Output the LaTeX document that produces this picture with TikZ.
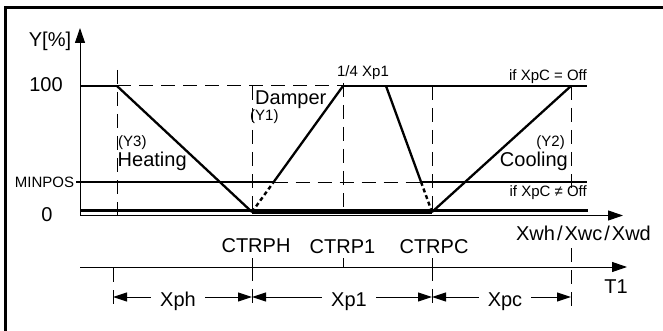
\documentclass[tikz,border=0pt]{standalone}
\usepackage{fontspec}
\setmainfont{Liberation Sans}
\usetikzlibrary{arrows.meta,calc}
\begin{document}
\begin{tikzpicture}[x=1pt,y=-1pt,
  big/.style={font=\fontsize{20}{22}\selectfont, inner sep=0pt},
  small/.style={font=\fontsize{15}{17}\selectfont, inner sep=0pt},
  thinline/.style={line width=1pt},
  heavy/.style={line width=2.7pt},
  curve/.style={line width=2.3pt},
  dsh/.style={line width=1pt, dash pattern=on 14pt off 8pt},
  dotln/.style={line width=2.4pt, dash pattern=on 4pt off 3pt},
  axisarrow/.style={line width=1pt, -{Triangle[length=15pt,width=10pt]}},
  dimarrow/.style={line width=1pt, {Triangle[length=14pt,width=9pt]}-{Triangle[length=14pt,width=9pt]}},
  dimlabel/.style={big, fill=white, inner xsep=9pt, inner ysep=2pt},
]
\useasboundingbox (0,0) rectangle (663,331);
\fill[white] (0,0) rectangle (663,331);
% frame (right and bottom edges are outside the picture)
\draw[line width=2.6pt] (5.5,331) -- (5.5,7.3) -- (663,7.3);

% key points
\coordinate (o) at (80,215.5);
\coordinate (ytip) at (80,28);
\coordinate (xtip) at (623,215.5);
\coordinate (t0) at (80,267);
\coordinate (ttip) at (627,267);
\coordinate (l100) at (80,86);
\coordinate (h0) at (117,86);
\coordinate (ph) at (252,212);
\coordinate (p1) at (343,86);
\coordinate (q) at (386,86);
\coordinate (pc) at (432,212);
\coordinate (c1) at (571,86);
\coordinate (r100) at (587,86);
\coordinate (dm1) at ($(ph)!0.238!(p1)$);
\coordinate (dm2) at ($(pc)!0.238!(q)$);
\coordinate (mp0) at (76,182);
\coordinate (mpa) at (dm1 |- mp0);
\coordinate (mpb) at (dm2 |- mp0);
\coordinate (mp1) at (587,182);
\coordinate (z0) at (80,210.7);
\coordinate (z1) at (588,210.7);

% axes
\draw[axisarrow] (o) -- (ytip);
\draw[axisarrow] (o) -- (xtip);
\draw[axisarrow] (t0) -- (ttip);

% zero line and heavy segment
\draw[heavy] (z0) -- (z1);
\draw[line width=4pt] (ph) -- (pc);

% 100 line
\draw[heavy] (l100) -- (h0);
\draw[dsh] (h0) -- (p1);
\draw[heavy] (p1) -- (r100);

% MINPOS line
\draw[line width=2pt] (mp0) -- (mpa);
\draw[dsh] (mpa) -- (mpb);
\draw[line width=2pt] (mpb) -- (mp1);

% vertical dashed guides (upper)
\draw[dsh] (117,70) -- (117,217);
\draw[dsh] (252,86) -- (252,212);
\draw[dsh] (343,83) -- (343,212);
\draw[dsh] (432,86) -- (432,212);
\draw[dsh] (571,86) -- (571,195);

% ticks and lower guides
\draw[thinline] (252,258) -- (252,267);
\draw[thinline] (343,258) -- (343,267);
\draw[thinline] (432,258) -- (432,267);
\draw[dsh] (113,268) -- (113,308);
\draw[dsh] (252,267) -- (252,306);
\draw[dsh] (432,267) -- (432,306);
\draw[dsh] (571,248) -- (571,308);

% characteristic curves
\draw[curve] (h0) -- (ph);
\draw[dotln] (ph) -- (dm1);
\draw[curve] (dm1) -- (p1);
\draw[curve] (q) -- (dm2);
\draw[dotln] (dm2) -- (pc);
\draw[curve] (pc) -- (c1);

% dimension lines
\coordinate (d0) at (113,297);
\coordinate (d1) at (252,297);
\coordinate (d2) at (432,297);
\coordinate (d3) at (571,297);
\draw[dimarrow] (d1) -- (d0);
\draw[dimarrow] (d1) -- (d2);
\draw[dimarrow] (d2) -- (d3);
\node[dimlabel, anchor=base] (xph) at (178,306) {Xph};
\node[dimlabel, anchor=base] (xp1) at (349,306) {Xp1};
\node[dimlabel, anchor=base] (xpc) at (505,306) {Xpc};

% axis labels
\node[big, anchor=base] (ylab) at (50,47) {Y[\%]};
\node[big, anchor=base] (l100t) at (46,92) {100};
\node[big, anchor=base] (l0t) at (47,221.7) {0};
\node[small, anchor=base] (minpos) at (44.5,187.3) {MINPOS};

% curve labels
\node[small, anchor=base west] (y3) at (118,146.7) {(Y3)};
\node[big, anchor=base west] (heat) at (117.5,167) {Heating};
\node[big, anchor=base west] (damp) at (255,105) {Damper};
\node[small, anchor=base west] (y1) at (250,120.7) {(Y1)};
\node[small, anchor=base] (quart) at (363,76.7) {1/4 Xp1};
\node[small, anchor=base east] (offa) at (587,81) {if XpC = Off};
\node[small, anchor=base east] (offb) at (587,196.5) {if XpC ≠ Off};
\node[small, anchor=base east] (y2) at (565,146.5) {(Y2)};
\node[big, anchor=base east] (cool) at (568,167) {Cooling};

% x labels
\node[big, anchor=base] (ctrph) at (256,252.7) {CTRPH};
\node[big, anchor=base] (ctrp1) at (342.5,253) {CTRP1};
\node[big, anchor=base] (ctrpc) at (434,253) {CTRPC};
\node[big, anchor=base] (xw) at (583.5,240) {Xwh\kern2pt/\kern2pt Xwc\kern2pt/\kern2pt Xwd};
\node[big, anchor=base] (t1) at (616,293.3) {T1};
\end{tikzpicture}
\end{document}
